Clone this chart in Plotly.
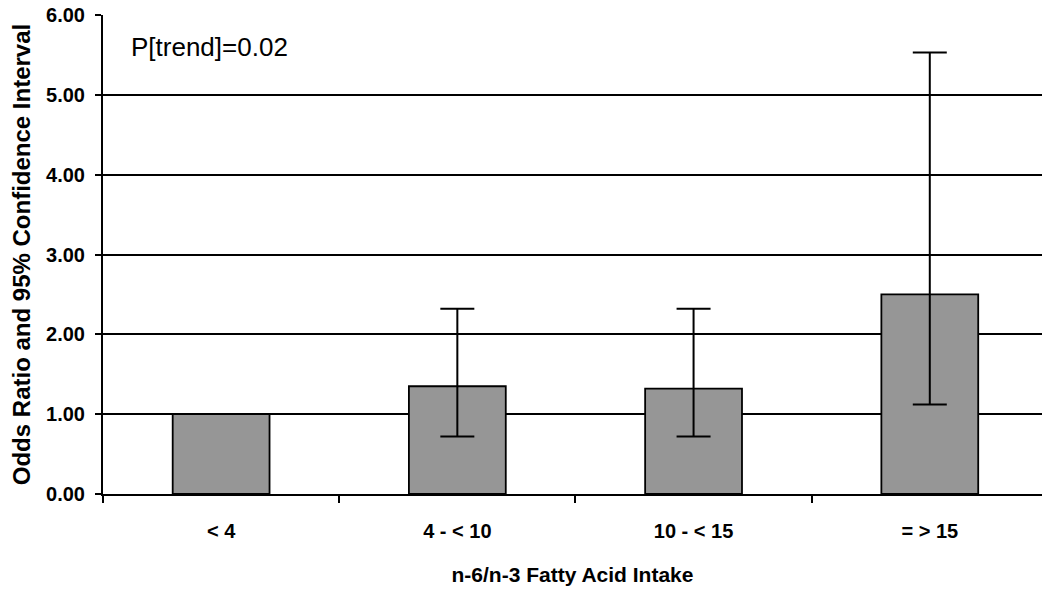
import plotly.graph_objects as go

categories = ["< 4", "4 - < 10", "10 - < 15", "= > 15"]
odds_ratio = [1.00, 1.35, 1.32, 2.50]
ci_lower = [None, 0.72, 0.72, 1.12]
ci_upper = [None, 2.32, 2.32, 5.53]
y_ticks = [0, 1, 2, 3, 4, 5, 6]

FONT = "Liberation Sans, Arial, Helvetica, sans-serif"

fig = go.Figure()
fig.add_trace(go.Bar(
    x=categories, y=odds_ratio,
    marker=dict(color="#969696", line=dict(color="#000000", width=1.8)),
    width=0.41, showlegend=False, hoverinfo="skip",
))

ci_cats = [c for c, lo in zip(categories, ci_lower) if lo is not None]
ci_vals = [v for v, lo in zip(odds_ratio, ci_lower) if lo is not None]
ci_plus = [hi - v for v, hi, lo in zip(odds_ratio, ci_upper, ci_lower) if lo is not None]
ci_minus = [v - lo for v, lo in zip(odds_ratio, ci_lower) if lo is not None]

fig.add_trace(go.Scatter(
    x=ci_cats, y=ci_vals, mode="markers",
    marker=dict(size=1, opacity=0),
    error_y=dict(type="data", symmetric=False, array=ci_plus, arrayminus=ci_minus,
                 color="#000000", thickness=2, width=17),
    showlegend=False, hoverinfo="skip",
))

fig.add_annotation(
    text="P[trend]=0.02", xref="paper", yref="y", x=0.028, y=5.6,
    xanchor="left", yanchor="middle", showarrow=False,
    font=dict(family=FONT, size=26, color="#000000"),
)

fig.update_layout(
    width=1042, height=590,
    margin=dict(l=103, r=0, t=15, b=96, autoexpand=False),
    paper_bgcolor="#ffffff", plot_bgcolor="#ffffff",
    bargap=0.59,
)

fig.update_xaxes(
    type="category", range=[-0.5, 3.475],
    showline=True, linecolor="#000000", linewidth=2,
    ticks="outside", tickson="boundaries", ticklen=7, tickwidth=1.5, tickcolor="#000000",
    ticklabelstandoff=18,
    tickfont=dict(family=FONT, size=20, color="#000000", weight="bold"),
    showgrid=False,
    title=dict(text="n-6/n-3 Fatty Acid Intake", standoff=26,
               font=dict(family=FONT, size=21, color="#000000", weight="bold")),
)

fig.update_yaxes(
    range=[0, 6], tickvals=y_ticks, tickformat=".2f",
    showline=True, linecolor="#000000", linewidth=2,
    ticks="outside", ticklen=6, tickwidth=1.5, tickcolor="#000000",
    ticklabelstandoff=6,
    tickfont=dict(family=FONT, size=20, color="#000000", weight="bold"),
    showgrid=True, gridcolor="#000000", gridwidth=1.5,
    zeroline=False,
    title=dict(text="Odds Ratio and 95% Confidence Interval", standoff=9,
               font=dict(family=FONT, size=24, color="#000000", weight="bold")),
)

fig.write_html(
    "out.html",
    config={"displayModeBar": False},
    post_script="document.body.style.margin='0';document.body.style.overflow='hidden';",
)
